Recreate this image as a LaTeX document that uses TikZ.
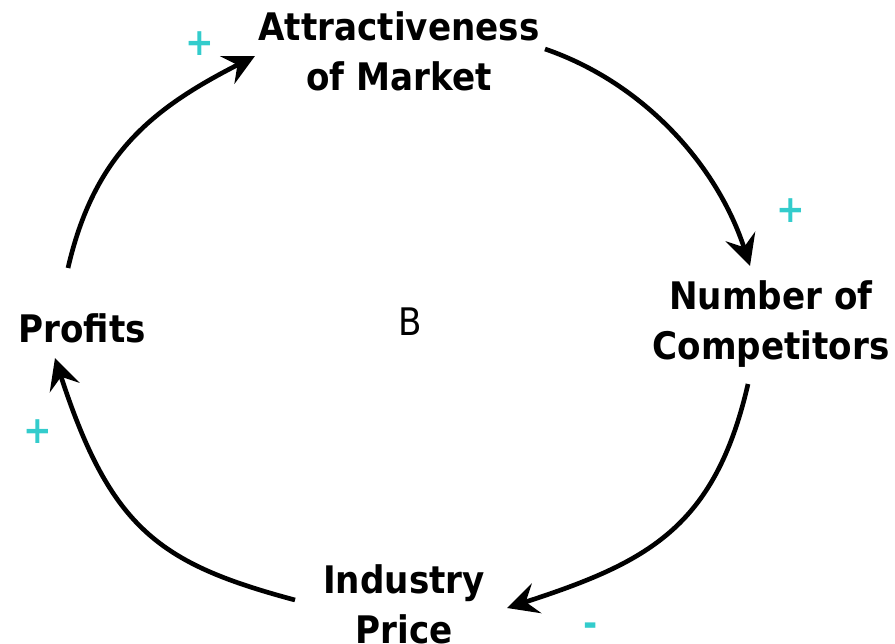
\documentclass[tikz,border=0pt]{standalone}
\usepackage{fontspec}
\usetikzlibrary{positioning,arrows.meta}
\newfontfamily\loopfont{DejaVu Sans}[FakeStretch=0.9]
\definecolor{signteal}{RGB}{51,204,204}
\tikzset{x=0.025cm, y=0.025cm,
  var/.style={font=\loopfont\bfseries\fontsize{27}{35.5}\selectfont, align=center, inner sep=0pt},
  link/.style={line width=3.3pt, -{Stealth[length=22pt,width=22pt,inset=8pt]}},
  sign/.style={text=signteal, font=\loopfont\bfseries\fontsize{27}{30}\selectfont, inner sep=0pt}}

\begin{document}
\begin{tikzpicture}

             \useasboundingbox (0,0) rectangle (895,644);

             \node[var] (attract) at (399,593) {Attractiveness\\of Market};
             \node[var] (rivals) at (771,320) {Number of\\Competitors};
             \node[var] (price) at (404,40) {Industry\\Price};
             \node[var] (profits) at (82,316) {Profits};

             \node[font=\loopfont\fontsize{27}{30}\selectfont] (loop) at (410,322) {B};

             \draw[link] ([shift={(-14,60)}]profits.center) to[out=77,in=207,looseness=1.05] ([shift={(-144,-5)}]attract.center);
             \draw[link] ([shift={(146,2)}]attract.center) to[out=-19,in=108,looseness=0.9] ([shift={(-21,58)}]rivals.center);
             \draw[link] ([shift={(-23,-60)}]rivals.center) to[out=257,in=18,looseness=1.15] ([shift={(103,-4)}]price.center);
             \draw[link] ([shift={(-109,4)}]price.center) to[out=165,in=288,out looseness=1.05,in looseness=1.35] ([shift={(-27,-30)}]profits.center);

             \node[sign] (s1) at (200,600) {+};
             \node[sign] (s2) at (791,433) {+};
             \node[sign] (s3) at (591,14) {-};
             \node[sign] (s4) at (38,212) {+};
          \end{tikzpicture}
\end{document}
